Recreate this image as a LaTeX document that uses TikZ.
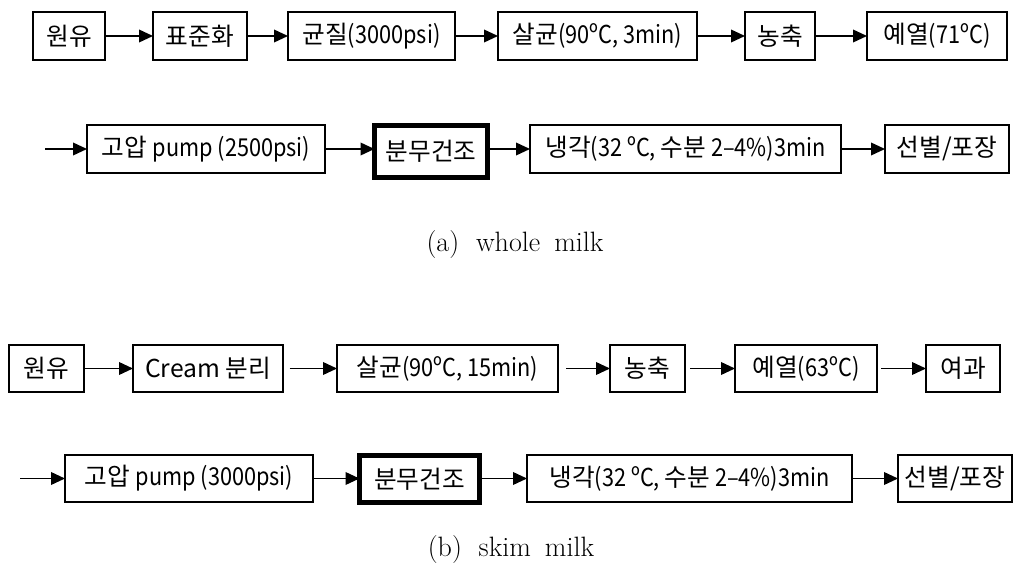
\documentclass[tikz,border=0pt]{standalone}
\usepackage{fontspec}
\newfontfamily\kr{Noto Sans CJK KR}
\newfontfamily\krn{Noto Sans CJK KR}[FakeStretch=0.88]
\newcommand{\cn}[1]{{\krn #1}}
\usetikzlibrary{arrows.meta}
\tikzset{
  box/.style={draw=black, line width=1.1pt, inner sep=0pt, outer sep=0pt,
    font=\kr\fontsize{18.5pt}{22pt}\selectfont, align=center},
  thickbox/.style={box, line width=3.75pt},
  flow/.style={draw=black, line width=1.2pt, -{Triangle[length=10.5pt,width=9.5pt]}},
  captext/.style={font=\fontsize{21pt}{25pt}\selectfont}
}
\begin{document}
\begin{tikzpicture}[x=0.75pt,y=-0.75pt]
\useasboundingbox (0,0) rectangle (1015,581);
% ---- (a) whole milk, row 1
\node[box, minimum width=54pt, minimum height=36pt] (a1) at (69,36) {원유};
\node[box, minimum width=70.5pt, minimum height=36pt] (a2) at (200,36) {표준화};
\node[box, minimum width=125.25pt, minimum height=36pt] (a3) at (371.5,36) {균질\cn{(3000psi)}};
\node[box, minimum width=149.25pt, minimum height=36pt] (a4) at (597.5,36) {살균\cn{(90ºC, 3min)}};
\node[box, minimum width=52.5pt, minimum height=36pt] (a5) at (780,36) {농축};
\node[box, minimum width=105pt, minimum height=36pt] (a6) at (937,36) {예열\cn{(71ºC)}};
% row 2
\coordinate (a0) at (45,149);
\node[box, minimum width=178.5pt, minimum height=36pt] (a7) at (206,149) {고압 \cn{pump (2500psi)}};
\node[thickbox, minimum width=84.75pt, minimum height=39pt] (a8) at (431,151.5) {분무건조};
\node[box, minimum width=233.25pt, minimum height=36pt] (a9) at (685.5,149) {냉각\cn{(32 ºC, }수분\cn{ 2–4\%)3min}};
\node[box, minimum width=93pt, minimum height=36pt] (a10) at (947,149) {선별/포장};
\draw[flow] (a1) -- (a2);
\draw[flow] (a2) -- (a3);
\draw[flow] (a3) -- (a4);
\draw[flow] (a4) -- (a5);
\draw[flow] (a5) -- (a6);
\draw[flow] (a0) -- (a7.west);
\draw[flow] (a7.east) -- (a7.east -| a8.west);
\draw[flow] (a8.east |- a9.west) -- (a9.west);
\draw[flow] (a9) -- (a10);
\node[captext] (capa) at (515,245) {(a)\hspace{0.6em}whole\hspace{0.5em}milk};
% ---- (b) skim milk, row 3
\node[box, minimum width=56.25pt, minimum height=35.25pt] (b1) at (46.5,368.5) {원유};
\node[box, minimum width=112.5pt, minimum height=35.25pt] (b2) at (208,368.5) {Cream 분리};
\node[box, minimum width=165.75pt, minimum height=35.25pt] (b3) at (447.5,368.5) {살균\cn{(90ºC, 15min)}};
\node[box, minimum width=56.25pt, minimum height=35.25pt] (b4) at (647.5,368.5) {농축};
\node[box, minimum width=106.5pt, minimum height=35.25pt] (b5) at (806,368.5) {예열\cn{(63ºC)}};
\node[box, minimum width=55.5pt, minimum height=35.25pt] (b6) at (963,368.5) {여과};
% row 4
\coordinate (b0) at (20,478.5);
\node[box, minimum width=186pt, minimum height=35.25pt] (b7) at (189,478.5) {고압 \cn{pump (3000psi)}};
\node[thickbox, minimum width=90pt, minimum height=35.25pt] (b8) at (419.5,479) {분무건조};
\node[box, minimum width=243.75pt, minimum height=35.25pt] (b9) at (689.5,478.5) {냉각\cn{(32 ºC, }수분\cn{ 2–4\%)3min}};
\node[box, minimum width=85.5pt, minimum height=35.25pt] (b10) at (955,478.5) {선별/포장};
\draw[flow] (b1) -- (b2);
\draw[flow, shorten <=5pt] (b2) -- (b3);
\draw[flow, shorten <=6pt] (b3) -- (b4);
\draw[flow, shorten <=4pt] (b4) -- (b5);
\draw[flow, shorten <=3pt] (b5) -- (b6);
\draw[flow] (b0) -- (b7.west);
\draw[flow] (b7.east) -- (b7.east -| b8.west);
\draw[flow] (b8.east |- b9.west) -- (b9.west);
\draw[flow] (b9) -- (b10);
\node[captext] (capb) at (511,550) {(b)\hspace{0.6em}skim\hspace{0.5em}milk};
\end{tikzpicture}
\end{document}
